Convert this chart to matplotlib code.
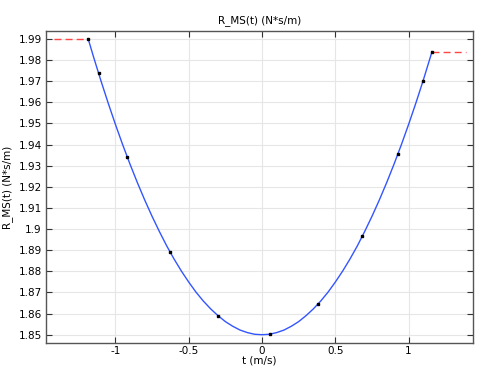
import numpy as np
import matplotlib.pyplot as plt

# sample points of the interpolation function (black dots)
t_pts = [-1.186, -1.115, -0.920, -0.628, -0.300, 0.055, 0.382, 0.683, 0.928, 1.099, 1.160]
r_pts = [1.9900, 1.9737, 1.9343, 1.8893, 1.8589, 1.8503, 1.8646, 1.8966, 1.9357, 1.9702, 1.9840]

# smooth curve
t_curve = [-1.186, -1.15, -1.1, -1.05, -1.0, -0.95, -0.9, -0.85, -0.8, -0.75, -0.7,
           -0.65, -0.6, -0.55, -0.5, -0.45, -0.4, -0.35, -0.3, -0.25, -0.2, -0.15,
           -0.1, -0.05, 0.0, 0.05, 0.1, 0.15, 0.2, 0.25, 0.3, 0.35, 0.4, 0.45, 0.5,
           0.55, 0.6, 0.65, 0.7, 0.75, 0.8, 0.85, 0.9, 0.95, 1.0, 1.05, 1.1, 1.16]
r_curve = [1.9900, 1.9816, 1.9704, 1.9597, 1.9495, 1.9398, 1.9306, 1.9219, 1.9137,
           1.9060, 1.8988, 1.8920, 1.8858, 1.8801, 1.8749, 1.8701, 1.8659, 1.8622,
           1.8590, 1.8562, 1.8540, 1.8522, 1.8510, 1.8502, 1.8500, 1.8502, 1.8510,
           1.8522, 1.8540, 1.8562, 1.8590, 1.8622, 1.8659, 1.8701, 1.8749, 1.8801,
           1.8858, 1.8920, 1.8988, 1.9060, 1.9137, 1.9219, 1.9306, 1.9398, 1.9495,
           1.9597, 1.9704, 1.9840]

# constant extrapolation outside the data range
t_left = [-1.421, -1.186]
r_left = [1.9900, 1.9900]
t_right = [1.160, 1.395]
r_right = [1.9840, 1.9840]

plt.rcParams['font.family'] = 'DejaVu Sans'
fig = plt.figure(figsize=(4.79, 3.66), dpi=100)
ax = fig.add_axes([0.096, 0.063, 0.891, 0.852])

ax.plot(t_curve, r_curve, color='#3355ff', lw=1.0, zorder=3)
ax.plot(t_left, r_left, color='#ff4444', lw=1.0, ls=(0, (5, 3)), zorder=3)
ax.plot(t_right, r_right, color='#ff4444', lw=1.0, ls=(0, (5, 3)), zorder=3)
ax.plot(t_pts, r_pts, ls='none', marker='s', ms=1.5, color='black', zorder=4)

ax.set_xlim(-1.474, 1.438)
ax.set_ylim(1.8461, 1.9937)
ax.set_xticks([-1, -0.5, 0, 0.5, 1])
ax.set_xticklabels(['-1', '-0.5', '0', '0.5', '1'])
yt = np.round(np.arange(1.85, 1.9901, 0.01), 2)
ax.set_yticks(yt)
ax.set_yticklabels(['%g' % v for v in yt])

ax.grid(True, color='#e6e6e6', lw=0.8)
ax.set_axisbelow(True)
ax.tick_params(direction='in', length=4, width=0.8, labelsize=7.5,
               top=True, right=True, colors='#333333', labelcolor='black', pad=3)
ax.tick_params(axis='x', pad=2)
for s in ax.spines.values():
    s.set_color('#555555')
    s.set_linewidth(1.0)

ax.set_title('R_MS(t) (N*s/m)', fontsize=7.5, pad=6)
ax.set_xlabel('t (m/s)', fontsize=7.5, labelpad=0)
ax.set_ylabel('R_MS(t) (N*s/m)', fontsize=7.5, labelpad=4)

fig.savefig('out.png', dpi=100)
